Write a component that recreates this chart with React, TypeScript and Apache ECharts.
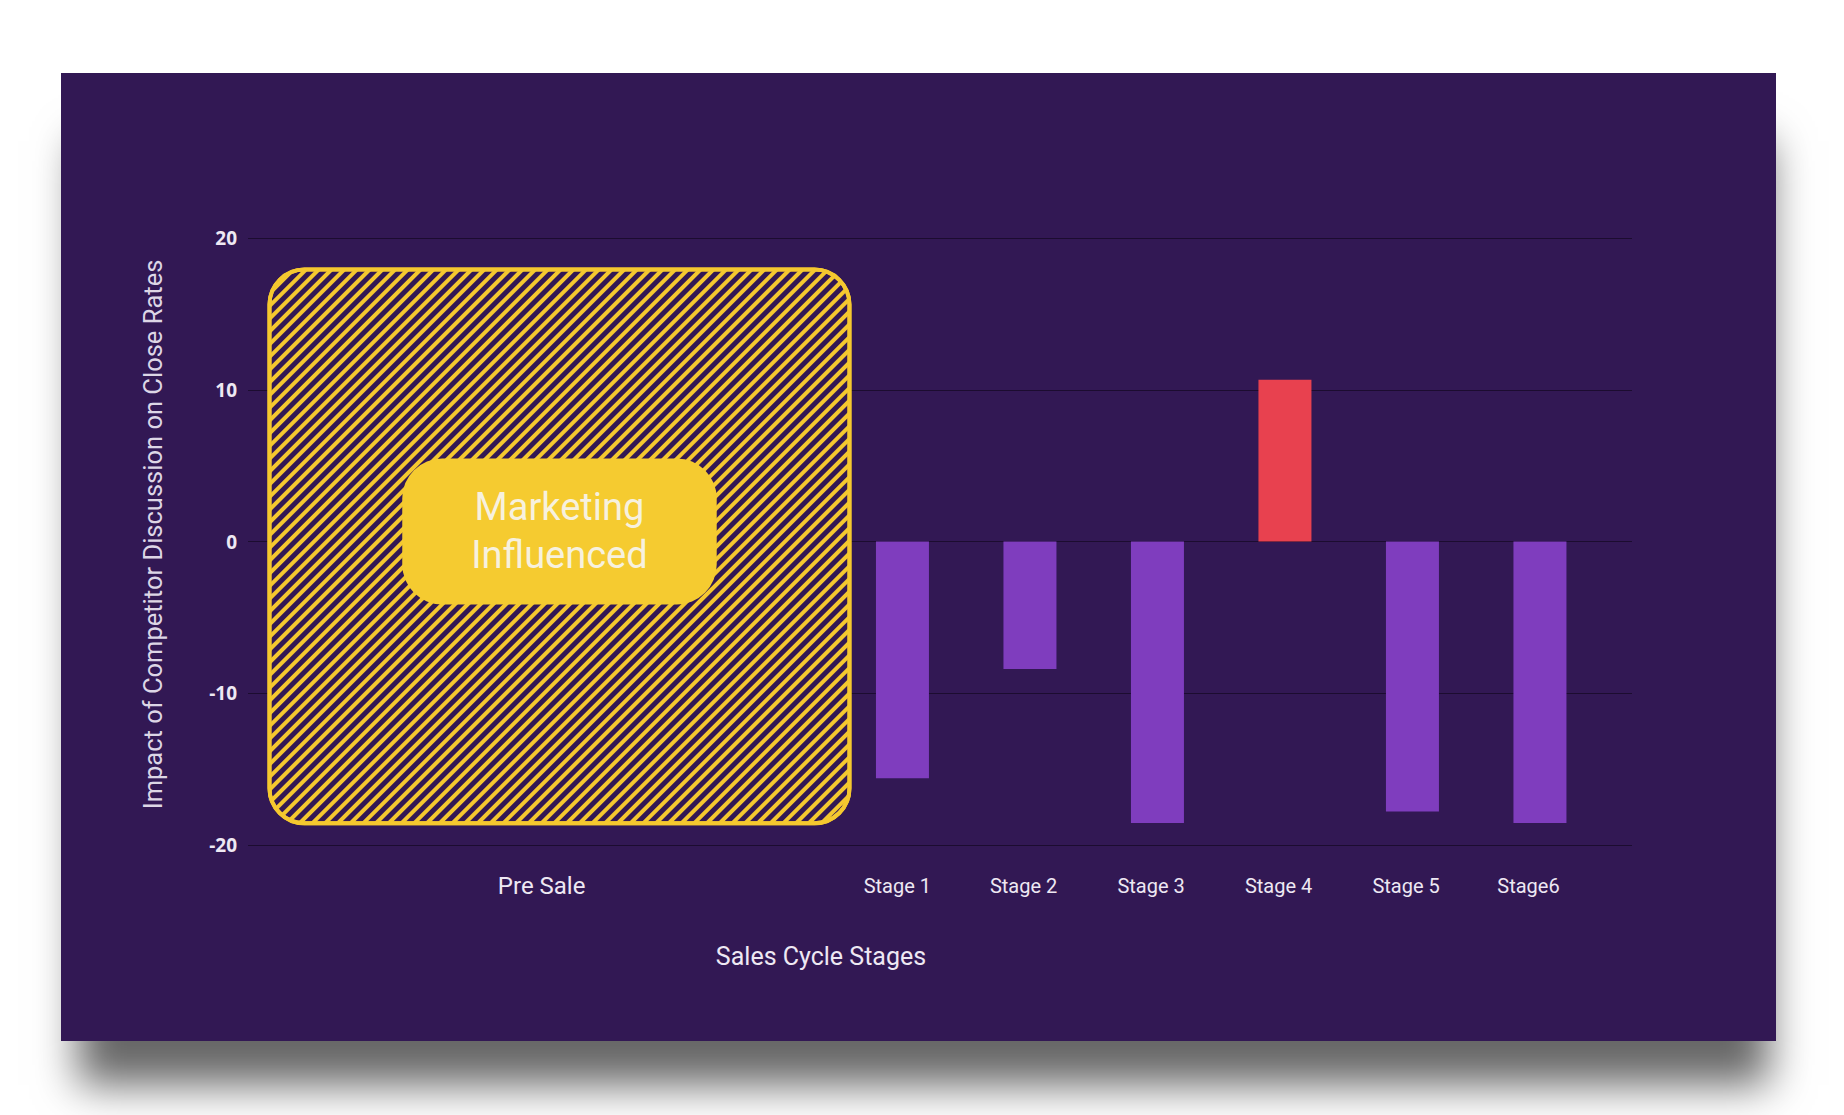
import React, { useEffect, useRef } from "react";
import * as echarts from "echarts";

// ---- data ----
const categories = ["Pre Sale", "Stage 1", "Stage 2", "Stage 3", "Stage 4", "Stage 5", "Stage6"];
const labelPositions = [-1.83, 0.96, 1.95, 2.95, 3.95, 4.95, 5.91];
const stagePositions = [1, 2, 3, 4, 5, 6];
const stageValues = [-15.6, -8.4, -18.55, 10.66, -17.8, -18.55];
const preSaleCenter = -1.69;
const preSaleLow = -18.7;
const preSaleHigh = 18.05;
const annotationText = ["Marketing", "Influenced"];
const yTitle = "Impact of Competitor Discussion on Close Rates";
const xTitle = "Sales Cycle Stages";

// ---- styles ----
const PANEL = "#321854";
const YELLOW = "#F5C82F";
const PURPLE = "#7F3DBE";
const RED = "#E8414F";
const GRID_LINE = "#1C0C30";
const TEXT = "#EEE8F3";
const X_MIN = -4.133;
const X_MAX = 6.722;
const Y_MIN = -20;
const Y_MAX = 20;

export default function App() {
  const ref = useRef<HTMLDivElement>(null);

  useEffect(() => {
    if (!ref.current) return;
    const chart = echarts.init(ref.current, undefined, { renderer: "svg" });

    const nameAt = (v: number) => {
      let best = 0;
      let bd = Infinity;
      labelPositions.forEach((p, i) => {
        const d = Math.abs(p - v);
        if (d < bd) {
          bd = d;
          best = i;
        }
      });
      return best === 0 ? `{big|${categories[best]}}` : categories[best];
    };

    chart.setOption({
      animation: false,
      backgroundColor: "transparent",
      grid: { left: 248, right: 212, top: 238, bottom: 270, containLabel: false },
      xAxis: [
        {
          type: "value",
          min: X_MIN,
          max: X_MAX,
          axisLine: { show: false },
          axisTick: { show: false },
          splitLine: { show: false },
          axisLabel: {
            customValues: labelPositions,
            formatter: (v: number) => nameAt(v),
            margin: 28,
            color: TEXT,
            fontFamily: "Roboto",
            fontSize: 20,
            lineHeight: 26,
            rich: {
              big: { fontSize: 24, lineHeight: 26, color: TEXT, fontFamily: "Roboto" },
            },
          },
          name: xTitle,
          nameLocation: "middle",
          nameGap: 99,
          nameTextStyle: {
            color: TEXT,
            fontFamily: "Roboto",
            fontSize: 25,
            padding: [0, 238, 0, 0],
          },
        },
        {
          type: "value",
          min: X_MIN,
          max: X_MAX,
          show: false,
        },
      ],
      yAxis: [
        {
          type: "value",
          min: Y_MIN,
          max: Y_MAX,
          interval: 10,
          axisLine: { show: false },
          axisTick: { show: false },
          splitLine: { show: true, lineStyle: { color: GRID_LINE, width: 1.2 } },
          axisLabel: {
            color: TEXT,
            fontFamily: "Open Sans",
            fontWeight: "bold",
            fontSize: 19,
            margin: 11,
          },
          name: yTitle,
          nameLocation: "middle",
          nameGap: 82,
          nameTextStyle: {
            color: "#DDD6E6",
            fontFamily: "Roboto",
            fontSize: 25.5,
            padding: [0, 0, 0, 14],
          },
        },
        {
          // same scale as the main axis, shifted so the Pre Sale box starts at its low value
          type: "value",
          min: Y_MIN - preSaleLow,
          max: Y_MAX - preSaleLow,
          show: false,
        },
      ],
      series: [
        {
          type: "bar",
          xAxisIndex: 1,
          yAxisIndex: 1,
          barWidth: 584,
          silent: true,
          data: [[preSaleCenter, preSaleHigh - preSaleLow]],
          itemStyle: {
            color: PANEL,
            borderColor: YELLOW,
            borderWidth: 4,
            borderRadius: 35,
            decal: {
              symbol: "rect",
              symbolSize: 1,
              color: YELLOW,
              dashArrayX: [1, 0],
              dashArrayY: [4, 5],
              rotation: -Math.PI / 4,
            },
          },
          label: {
            show: true,
            position: "inside",
            formatter: annotationText.join("\n"),
            color: "#F7F1DE",
            fontFamily: "Roboto",
            fontSize: 38,
            lineHeight: 48,
            align: "center",
            backgroundColor: "#F5CB30",
            borderRadius: 40,
            padding: [25, 69],
            offset: [0, -15],
          },
          z: 2,
        },
        {
          type: "bar",
          xAxisIndex: 0,
          yAxisIndex: 0,
          barWidth: 53,
          data: stagePositions.map((x, i) => ({
            value: [x, stageValues[i]],
            itemStyle: { color: stageValues[i] > 0 ? RED : PURPLE },
          })),
          z: 3,
        },
      ],
    });

    return () => chart.dispose();
  }, []);

  return (
    <div style={{ position: "fixed", left: 0, top: 0, width: 1844, height: 1115, background: "#ffffff", overflow: "hidden" }}>
      <div
        style={{
          position: "absolute",
          left: 61,
          top: 73,
          width: 1715,
          height: 968,
          background: PANEL,
          boxShadow: "5px 56px 40px -12px rgba(0,0,0,0.6)",
        }}
      />
      <div ref={ref} style={{ position: "absolute", left: 0, top: 0, width: 1844, height: 1115 }} />
    </div>
  );
}
